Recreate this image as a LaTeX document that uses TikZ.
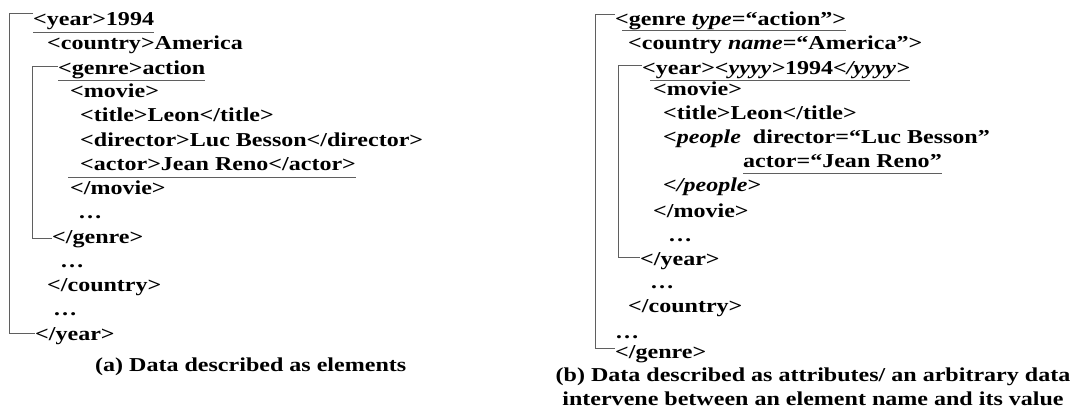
\documentclass[tikz,border=0pt]{standalone}
\usepackage{fontspec}
\setmainfont{Liberation Serif}[FakeStretch=1.22]
\usetikzlibrary{positioning}
\definecolor{linegray}{RGB}{95,95,95}

\begin{document}
\begin{tikzpicture}[x=1pt, y=-1pt,
  xl/.style={anchor=base west, inner sep=0pt, font=\fontsize{19.7}{24}\selectfont\bfseries},
  captxt/.style={xl, anchor=base},
  brk/.style={draw=linegray, line width=0.8pt},
  ul/.style={draw=linegray, line width=0.8pt}
]
\useasboundingbox (0,0) rectangle (1075,415);
% (a) elementi
\node[xl] (ya1) at (33,25) {<year>1994};
\node[xl] (co1) at (47,49) {<country>America};
\node[xl] (ge1) at (58,74) {<genre>action};
\node[xl] (mo1) at (70,97) {<movie>};
\node[xl] (ti1) at (80,121) {<title>Leon</title>};
\node[xl] (di1) at (80,146) {<director>Luc Besson</director>};
\node[xl] (ac1) at (80,170) {<actor>Jean Reno</actor>};
\node[xl] (mo2) at (70,194) {</movie>};
\node[xl] (dt1) at (78,218) {…};
\node[xl] (ge2) at (52,243) {</genre>};
\node[xl] (dt2) at (60,267) {…};
\node[xl] (co2) at (47,291) {</country>};
\node[xl] (dt3) at (53,315) {…};
\node[xl] (ya2) at (35,340) {</year>};
\node[xl] (capa) at (95,371) {(a) Data described as elements};
% (b) attributi
\node[xl] (ge3) at (615,25) {<genre \textit{type}=“action”>};
\node[xl] (co3) at (628,49) {<country \textit{name}=“America”>};
\node[xl] (ya3) at (642,74) {<year>\textit{<yyyy>}1994\textit{</yyyy>}};
\node[xl] (mo3) at (653,95) {<movie>};
\node[xl] (ti3) at (663,119) {<title>Leon</title>};
\node[xl] (pe1) at (663,143) {\textit{<people}\ \ director=“Luc Besson”};
\node[xl] (ac3) at (743,167) {actor=“Jean Reno”};
\node[xl] (pe2) at (663,191) {\textit{</people}>};
\node[xl] (mo4) at (653,217) {</movie>};
\node[xl] (dt4) at (668,241) {…};
\node[xl] (ya4) at (640,265) {</year>};
\node[xl] (dt5) at (650,288) {…};
\node[xl] (co4) at (628,312) {</country>};
\node[xl] (dt6) at (615,338) {…};
\node[xl] (ge4) at (615,358) {</genre>};
\node[captxt] (capb1) at (813,381) {(b) Data described as attributes/ an arbitrary data};
\node[captxt] (capb2) at (813,405) {intervene between an element name and its value};
% parentesi
\draw[brk] ([yshift=12pt]ya1.base west) -- ++(-23.5,0) |- ([yshift=7pt]ya2.base west);
\draw[brk] ([yshift=8pt]ge1.base west) -- ++(-26,0) |- ([yshift=5pt]ge2.base west);
\draw[brk] ([yshift=11pt]ge3.base west) -- ++(-20,0) |- ([yshift=10pt]ge4.base west);
\draw[brk] ([yshift=9pt]ya3.base west) -- ++(-24,0) |- ([yshift=8pt]ya4.base west);
% sottolineature
\draw[ul] ([yshift=-7pt]ya1.base west) -- ([yshift=-7pt]ya1.base east);
\draw[ul] ([yshift=-6pt]ge1.base west) -- ([yshift=-6pt]ge1.base east);
\draw[ul] ([xshift=-12pt,yshift=-7pt]ac1.base west) -- ([yshift=-7pt]ac1.base east);
\draw[ul] ([xshift=7pt,yshift=-5pt]ge3.base west) -- ([yshift=-5pt]ge3.base east);
\draw[ul] ([xshift=8pt,yshift=-6pt]ya3.base west) -- ([yshift=-6pt]ya3.base east);
\draw[ul] ([yshift=-6pt]ac3.base west) -- ([yshift=-6pt]ac3.base east);
\end{tikzpicture}
\end{document}
